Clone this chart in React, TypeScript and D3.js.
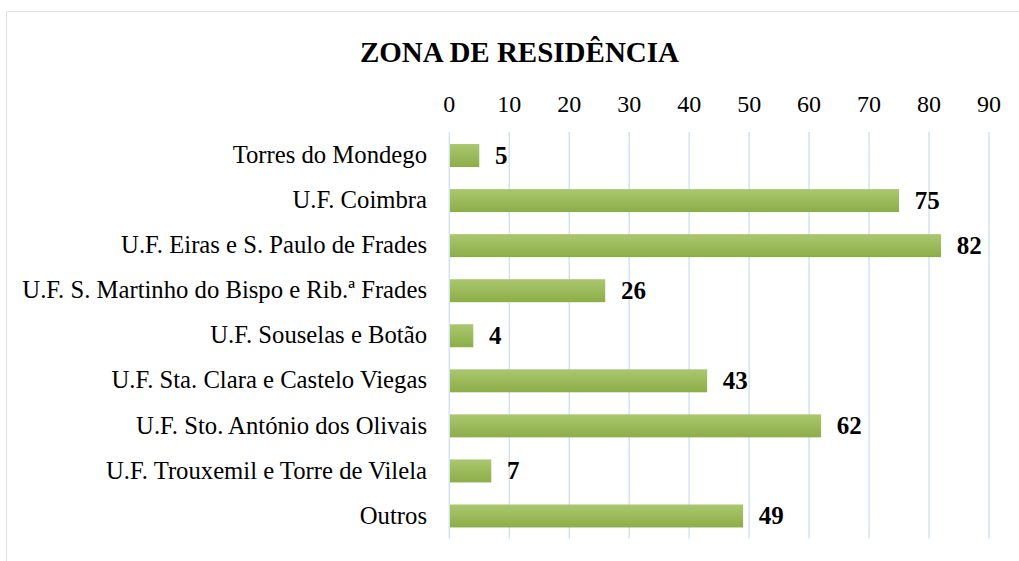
import React, { useEffect, useRef } from 'react'
import * as d3 from 'd3'

const categories = [
  'Torres do Mondego',
  'U.F. Coimbra',
  'U.F. Eiras e S. Paulo de Frades',
  'U.F. S. Martinho do Bispo e Rib.ª Frades',
  'U.F. Souselas e Botão',
  'U.F. Sta. Clara e Castelo Viegas',
  'U.F. Sto. António dos Olivais',
  'U.F. Trouxemil e Torre de Vilela',
  'Outros',
]
const values = [5, 75, 82, 26, 4, 43, 62, 7, 49]
const xTicks = [0, 10, 20, 30, 40, 50, 60, 70, 80, 90]
const title = 'ZONA DE RESIDÊNCIA'

const W = 1019
const H = 561
const FONT = "'Liberation Serif', 'DejaVu Serif', serif"

export default function App() {
  const svgRef = useRef<SVGSVGElement>(null)

  useEffect(() => {
    if (!svgRef.current) return
    const svg = d3.select(svgRef.current)
    svg.selectAll('*').remove()

    const margin = { top: 133, right: 30, bottom: 22.5, left: 449.3 }

    const defs = svg.append('defs')
    const grad = defs
      .append('linearGradient')
      .attr('id', 'barGrad')
      .attr('x1', 0)
      .attr('y1', 0)
      .attr('x2', 0)
      .attr('y2', 1)
    grad.append('stop').attr('offset', '0%').attr('stop-color', '#aac76f')
    grad.append('stop').attr('offset', '100%').attr('stop-color', '#8cae48')

    svg.append('rect').attr('width', W).attr('height', H).attr('fill', '#fff')

    // chart frame
    svg
      .append('path')
      .attr('d', `M6.5,${H} V11.5 H${W}`)
      .attr('fill', 'none')
      .attr('stroke', '#d9e1ea')
      .attr('stroke-width', 1)

    svg
      .append('text')
      .attr('x', 519.5)
      .attr('y', 61.5)
      .attr('text-anchor', 'middle')
      .style('font-family', FONT)
      .style('font-weight', 'bold')
      .style('font-size', '29px')
      .style('fill', '#000')
      .text(title)

    const xScale = d3.scaleLinear().domain([0, 90]).range([margin.left, 989])
    const yScale = d3
      .scaleBand<string>()
      .domain(categories)
      .range([margin.top, H - margin.bottom])
      .paddingInner(0.49)
      .paddingOuter(0.245)

    const g = svg.append('g')

    // gridlines
    g.selectAll('line.grid')
      .data(xTicks)
      .enter()
      .append('line')
      .attr('class', 'grid')
      .attr('x1', (d) => xScale(d))
      .attr('x2', (d) => xScale(d))
      .attr('y1', margin.top - 1)
      .attr('y2', H - margin.bottom)
      .attr('stroke', '#d5e2f2')
      .attr('stroke-width', 1.5)

    // top tick labels
    g.selectAll('text.tick')
      .data(xTicks)
      .enter()
      .append('text')
      .attr('class', 'tick')
      .attr('x', (d) => xScale(d))
      .attr('y', 111.5)
      .attr('text-anchor', 'middle')
      .style('font-family', FONT)
      .style('font-size', '24px')
      .style('fill', '#000')
      .text((d) => d)

    // bars
    g.selectAll('rect.bar')
      .data(values)
      .enter()
      .append('rect')
      .attr('class', 'bar')
      .attr('x', xScale(0) + 0.7)
      .attr('y', (_, i) => yScale(categories[i]) as number)
      .attr('width', (d) => xScale(d) - xScale(0) - 0.7)
      .attr('height', yScale.bandwidth())
      .attr('fill', 'url(#barGrad)')

    // category labels
    g.selectAll('text.cat')
      .data(categories)
      .enter()
      .append('text')
      .attr('class', 'cat')
      .attr('x', 427)
      .attr('y', (d) => (yScale(d) as number) + yScale.bandwidth() / 2)
      .attr('dy', '0.31em')
      .attr('text-anchor', 'end')
      .style('font-family', FONT)
      .style('font-size', '24.7px')
      .style('fill', '#000')
      .text((d) => d)

    // value labels
    g.selectAll('text.val')
      .data(values)
      .enter()
      .append('text')
      .attr('class', 'val')
      .attr('x', (d) => xScale(d) + 15.7)
      .attr('y', (_, i) => (yScale(categories[i]) as number) + yScale.bandwidth() / 2)
      .attr('dy', '0.33em')
      .style('font-family', FONT)
      .style('font-weight', 'bold')
      .style('font-size', '25px')
      .style('fill', '#000')
      .text((d) => d)
  }, [])

  return (
    <svg
      ref={svgRef}
      width={W}
      height={H}
      style={{ position: 'absolute', left: 0, top: 0, display: 'block' }}
    />
  )
}
